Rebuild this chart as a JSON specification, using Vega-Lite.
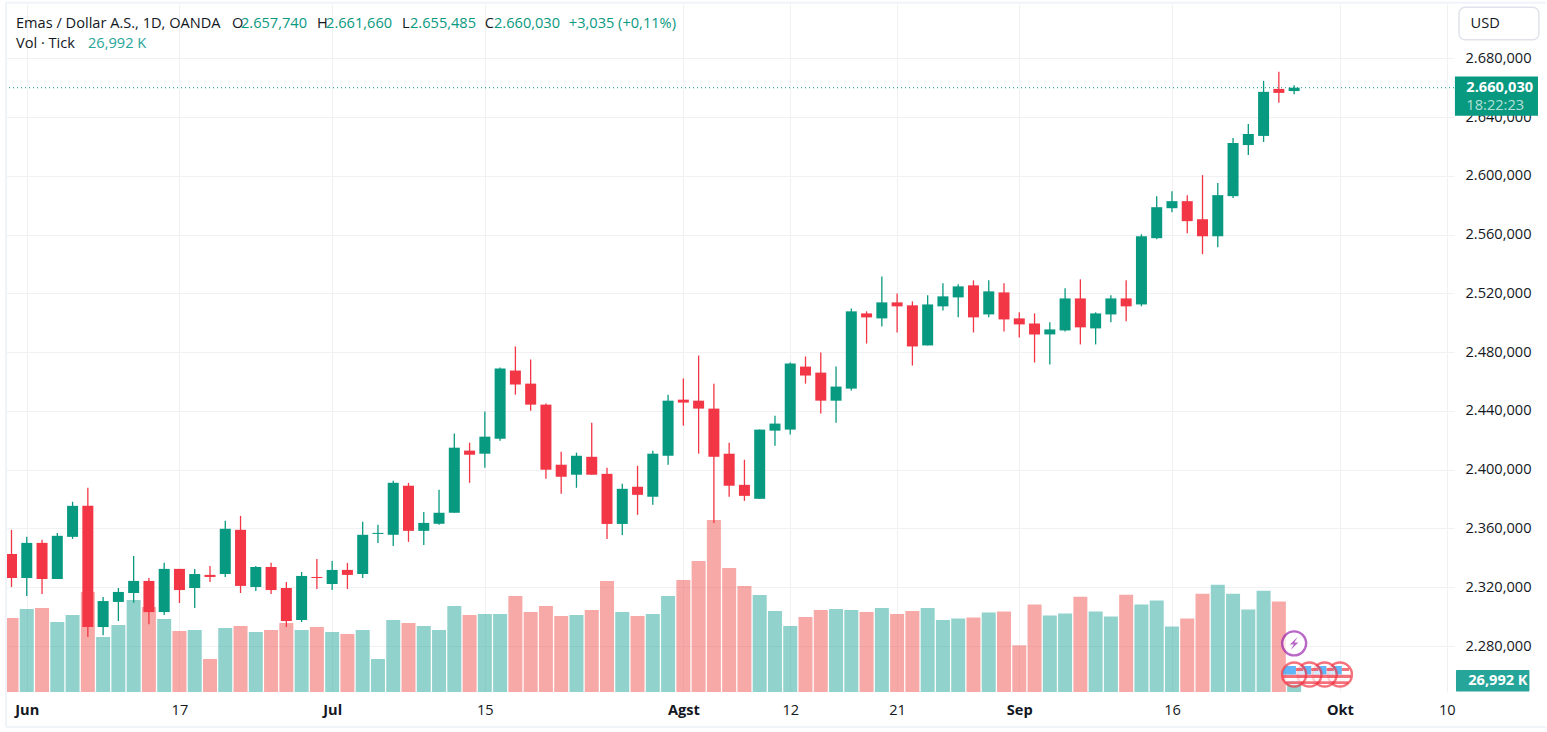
{
  "$schema": "https://vega.github.io/schema/vega-lite/v6.json",
  "width": 1448,
  "height": 688,
  "autosize": {"type": "none"},
  "padding": {"left": 6, "top": 4, "right": 93, "bottom": 40},
  "background": "white",
  "config": {
    "view": {"stroke": null},
    "font": "Open Sans",
    "text": {"align": "left", "fontSize": 14.6, "color": "#131722"}
  },
  "data": {"values": [{}]},
  "datasets": {
    "bars": [
      {"i":0,"open":2342.7,"high":2359.1,"low":2320.2,"close":2326.3,"volume":181.6},
      {"i":1,"open":2326.3,"high":2354.3,"low":2314.1,"close":2350.2,"volume":203.7},
      {"i":2,"open":2350.2,"high":2352.3,"low":2315.4,"close":2325.6,"volume":206.1},
      {"i":3,"open":2325.6,"high":2357.0,"low":2325.6,"close":2355.0,"volume":171.8},
      {"i":4,"open":2354.3,"high":2378.2,"low":2352.9,"close":2375.4,"volume":189.0},
      {"i":5,"open":2375.4,"high":2387.7,"low":2286.1,"close":2292.9,"volume":245.4},
      {"i":6,"open":2292.9,"high":2313.4,"low":2287.4,"close":2310.6,"volume":135.0},
      {"i":7,"open":2310.0,"high":2319.5,"low":2297.0,"close":2316.8,"volume":164.4},
      {"i":8,"open":2316.1,"high":2341.3,"low":2309.5,"close":2324.3,"volume":225.8},
      {"i":9,"open":2324.3,"high":2326.3,"low":2294.9,"close":2303.1,"volume":208.6},
      {"i":10,"open":2303.1,"high":2336.6,"low":2301.1,"close":2332.5,"volume":179.1},
      {"i":11,"open":2332.5,"high":2332.5,"low":2309.3,"close":2318.1,"volume":149.7},
      {"i":12,"open":2319.5,"high":2332.5,"low":2305.9,"close":2329.0,"volume":152.1},
      {"i":13,"open":2328.4,"high":2334.5,"low":2323.6,"close":2327.0,"volume":81.0},
      {"i":14,"open":2329.0,"high":2365.2,"low":2327.0,"close":2359.8,"volume":157.1},
      {"i":15,"open":2359.1,"high":2368.6,"low":2316.1,"close":2320.9,"volume":162.0},
      {"i":16,"open":2320.2,"high":2334.5,"low":2317.4,"close":2333.8,"volume":147.2},
      {"i":17,"open":2333.8,"high":2336.6,"low":2315.4,"close":2318.1,"volume":152.1},
      {"i":18,"open":2319.5,"high":2323.6,"low":2292.9,"close":2297.0,"volume":169.3},
      {"i":19,"open":2297.7,"high":2330.4,"low":2296.3,"close":2327.7,"volume":152.1},
      {"i":20,"open":2327.0,"high":2339.3,"low":2318.8,"close":2326.3,"volume":159.5},
      {"i":21,"open":2322.2,"high":2337.9,"low":2318.1,"close":2331.8,"volume":147.2},
      {"i":22,"open":2331.8,"high":2336.6,"low":2318.8,"close":2328.4,"volume":142.3},
      {"i":23,"open":2329.0,"high":2364.5,"low":2326.3,"close":2355.7,"volume":152.1},
      {"i":24,"open":2356.3,"high":2362.5,"low":2350.2,"close":2357.0,"volume":81.0},
      {"i":25,"open":2355.7,"high":2392.5,"low":2348.1,"close":2391.1,"volume":176.7},
      {"i":26,"open":2389.1,"high":2391.1,"low":2350.9,"close":2358.4,"volume":169.3},
      {"i":27,"open":2358.4,"high":2371.3,"low":2348.8,"close":2363.8,"volume":162.0},
      {"i":28,"open":2363.2,"high":2386.4,"low":2362.5,"close":2370.7,"volume":152.1},
      {"i":29,"open":2370.7,"high":2424.6,"low":2370.7,"close":2415.0,"volume":211.0},
      {"i":30,"open":2413.0,"high":2418.4,"low":2391.1,"close":2410.2,"volume":189.0},
      {"i":31,"open":2410.9,"high":2439.6,"low":2401.4,"close":2422.5,"volume":191.4},
      {"i":32,"open":2421.1,"high":2469.6,"low":2419.8,"close":2468.9,"volume":191.4},
      {"i":33,"open":2467.5,"high":2483.9,"low":2451.1,"close":2458.0,"volume":235.6},
      {"i":34,"open":2458.6,"high":2475.0,"low":2440.2,"close":2444.3,"volume":196.3},
      {"i":35,"open":2444.3,"high":2445.0,"low":2393.8,"close":2400.0,"volume":211.0},
      {"i":36,"open":2403.4,"high":2412.3,"low":2383.6,"close":2395.2,"volume":186.5},
      {"i":37,"open":2396.6,"high":2411.6,"low":2387.7,"close":2409.5,"volume":189.0},
      {"i":38,"open":2408.8,"high":2432.0,"low":2396.6,"close":2396.6,"volume":201.2},
      {"i":39,"open":2397.2,"high":2401.3,"low":2352.9,"close":2363.1,"volume":272.4},
      {"i":40,"open":2363.1,"high":2390.4,"low":2355.6,"close":2387.0,"volume":196.3},
      {"i":41,"open":2388.4,"high":2402.7,"low":2369.3,"close":2382.9,"volume":186.5},
      {"i":42,"open":2381.6,"high":2412.9,"low":2376.1,"close":2410.9,"volume":191.4},
      {"i":43,"open":2409.5,"high":2451.1,"low":2403.4,"close":2447.0,"volume":235.6},
      {"i":44,"open":2447.7,"high":2462.1,"low":2430.0,"close":2445.7,"volume":274.8},
      {"i":45,"open":2447.0,"high":2477.7,"low":2410.9,"close":2441.6,"volume":321.5},
      {"i":46,"open":2441.6,"high":2458.6,"low":2363.8,"close":2408.8,"volume":422.1},
      {"i":47,"open":2410.9,"high":2418.4,"low":2381.6,"close":2389.1,"volume":304.3},
      {"i":48,"open":2389.7,"high":2406.8,"low":2378.8,"close":2382.2,"volume":260.1},
      {"i":49,"open":2380.2,"high":2427.3,"low":2380.2,"close":2427.3,"volume":238.0},
      {"i":50,"open":2426.6,"high":2436.8,"low":2416.3,"close":2431.4,"volume":198.8},
      {"i":51,"open":2427.3,"high":2473.0,"low":2423.9,"close":2472.3,"volume":162.0},
      {"i":52,"open":2470.2,"high":2477.1,"low":2458.6,"close":2464.1,"volume":184.0},
      {"i":53,"open":2466.1,"high":2479.8,"low":2438.2,"close":2447.0,"volume":201.2},
      {"i":54,"open":2447.0,"high":2470.2,"low":2432.0,"close":2456.6,"volume":203.7},
      {"i":55,"open":2455.2,"high":2509.8,"low":2453.9,"close":2507.8,"volume":201.2},
      {"i":56,"open":2506.4,"high":2507.8,"low":2485.9,"close":2503.7,"volume":196.3},
      {"i":57,"open":2503.0,"high":2531.6,"low":2497.5,"close":2513.9,"volume":206.1},
      {"i":58,"open":2513.9,"high":2520.0,"low":2493.4,"close":2511.2,"volume":191.4},
      {"i":59,"open":2511.9,"high":2514.6,"low":2470.9,"close":2483.9,"volume":198.8},
      {"i":60,"open":2484.6,"high":2518.7,"low":2484.6,"close":2512.5,"volume":206.1},
      {"i":61,"open":2511.2,"high":2526.9,"low":2508.4,"close":2518.0,"volume":176.7},
      {"i":62,"open":2517.3,"high":2526.2,"low":2503.7,"close":2524.8,"volume":180.4},
      {"i":63,"open":2525.5,"high":2528.9,"low":2493.4,"close":2503.7,"volume":182.8},
      {"i":64,"open":2505.7,"high":2528.9,"low":2503.7,"close":2521.4,"volume":195.0},
      {"i":65,"open":2520.7,"high":2526.9,"low":2494.1,"close":2502.3,"volume":197.5},
      {"i":66,"open":2503.0,"high":2507.1,"low":2490.0,"close":2498.9,"volume":114.6},
      {"i":67,"open":2499.6,"high":2506.4,"low":2473.0,"close":2492.1,"volume":214.5},
      {"i":68,"open":2492.1,"high":2500.3,"low":2471.6,"close":2495.5,"volume":187.7},
      {"i":69,"open":2494.8,"high":2523.5,"low":2494.1,"close":2516.6,"volume":192.6},
      {"i":70,"open":2516.6,"high":2529.6,"low":2485.3,"close":2496.9,"volume":234.0},
      {"i":71,"open":2496.2,"high":2507.1,"low":2485.3,"close":2506.4,"volume":197.5},
      {"i":72,"open":2505.7,"high":2518.7,"low":2500.3,"close":2516.6,"volume":185.3},
      {"i":73,"open":2516.6,"high":2528.9,"low":2501.0,"close":2511.2,"volume":238.9},
      {"i":74,"open":2512.5,"high":2560.3,"low":2511.2,"close":2558.9,"volume":214.5},
      {"i":75,"open":2557.6,"high":2586.2,"low":2556.9,"close":2578.7,"volume":224.3},
      {"i":76,"open":2578.0,"high":2589.6,"low":2575.3,"close":2582.8,"volume":160.9},
      {"i":77,"open":2582.8,"high":2586.9,"low":2561.0,"close":2569.2,"volume":180.4},
      {"i":78,"open":2570.5,"high":2600.5,"low":2546.7,"close":2558.9,"volume":241.3},
      {"i":79,"open":2558.9,"high":2595.1,"low":2551.4,"close":2586.9,"volume":263.3},
      {"i":80,"open":2586.2,"high":2625.8,"low":2584.9,"close":2622.4,"volume":241.3},
      {"i":81,"open":2621.0,"high":2635.3,"low":2614.2,"close":2628.5,"volume":202.3},
      {"i":82,"open":2627.2,"high":2664.7,"low":2623.1,"close":2657.2,"volume":248.7},
      {"i":83,"open":2659.2,"high":2670.8,"low":2649.7,"close":2656.5,"volume":221.8},
      {"i":84,"open":2657.74,"high":2661.66,"low":2655.485,"close":2660.03,"volume":26.992}
    ],
    "flags": [
      {"i":87,"part":"flag"},{"i":87,"part":"stripes"},{"i":87,"part":"canton"},
      {"i":86,"part":"flag"},{"i":86,"part":"stripes"},{"i":86,"part":"canton"},
      {"i":85,"part":"flag"},{"i":85,"part":"stripes"},{"i":85,"part":"canton"},
      {"i":84,"part":"flag"},{"i":84,"part":"stripes"},{"i":84,"part":"canton"}
    ],
    "bolt": [
      {"i":84,"part":"event"},{"i":84,"part":"bolt"}
    ]
  },
  "layer": [
    {
      "data": {"name": "bars"},
      "mark": {"type": "bar", "orient": "vertical", "width": 14, "opacity": 0.5, "clip": true},
      "encoding": {
        "x": {
          "field": "i",
          "type": "quantitative",
          "scale": {"domain": [-0.36, 94.47], "nice": false, "zero": false, "padding": 0},
          "axis": {
            "title": null,
            "orient": "bottom",
            "values": [1, 11, 21, 31, 44, 51, 58, 66, 76, 87, 94],
            "labelExpr": "datum.value==1?'Jun':datum.value==11?'17':datum.value==21?'Jul':datum.value==31?'15':datum.value==44?'Agst':datum.value==51?'12':datum.value==58?'21':datum.value==66?'Sep':datum.value==76?'16':datum.value==87?'Okt':'10'",
            "labelFontWeight": {"condition": {"test": "datum.value==1||datum.value==21||datum.value==44||datum.value==66||datum.value==87", "value": "bold"}, "value": "normal"},
            "labelFontSize": 14.6,
            "labelColor": "#131722",
            "labelPadding": 10,
            "labelFlush": false,
            "labelOverlap": false,
            "domain": false,
            "ticks": false,
            "grid": true,
            "gridColor": "#f1f1f4",
            "gridWidth": 1
          }
        },
        "y": {
          "field": "volume",
          "type": "quantitative",
          "scale": {"domain": [0, 1688], "nice": false},
          "axis": null
        },
        "color": {"condition": {"test": "datum.close >= datum.open", "value": "#26a69a"}, "value": "#ef5350"}
      }
    },
    {
      "layer": [
        {
          "data": {"name": "bars"},
          "mark": {"type": "rule", "strokeWidth": 1.3},
          "encoding": {
            "x": {"field": "i", "type": "quantitative"},
            "y": {
              "field": "low",
              "type": "quantitative",
              "scale": {"domain": [2248.7, 2717], "nice": false, "zero": false},
              "axis": {
                "title": null,
                "orient": "right",
                "values": [2280, 2320, 2360, 2400, 2440, 2480, 2520, 2560, 2600, 2640, 2680],
                "labelExpr": "replace(replace(replace(format(datum.value, ',.3f'), '.', ';'), ',', '.'), ';', ',')",
                "labelFontSize": 14.6,
                "labelColor": "#131722",
                "labelPadding": 11,
                "domain": false,
                "ticks": false,
                "grid": true,
                "gridColor": "#f1f1f4",
                "gridWidth": 1
              }
            },
            "y2": {"field": "high"},
            "color": {"condition": {"test": "datum.close >= datum.open", "value": "#089981"}, "value": "#f23645"}
          }
        },
        {
          "data": {"name": "bars"},
          "mark": {"type": "bar", "orient": "vertical", "width": 11},
          "encoding": {
            "x": {"field": "i", "type": "quantitative"},
            "y": {"field": "open", "type": "quantitative"},
            "y2": {"field": "close"},
            "color": {"condition": {"test": "datum.close >= datum.open", "value": "#089981"}, "value": "#f23645"}
          }
        },
        {
          "mark": {"type": "rule", "color": "#089981", "strokeWidth": 1, "strokeDash": [1, 3]},
          "encoding": {"y": {"datum": 2660.03}}
        },
        {
          "mark": {"type": "rule", "color": "#f0f3fa", "strokeWidth": 2},
          "encoding": {"x": {"datum": -0.36}, "y": {"datum": 2224.9}, "y2": {"datum": 2717.8}}
        },
        {
          "mark": {"type": "rule", "color": "#f0f3fa", "strokeWidth": 2},
          "encoding": {"x": {"datum": -0.36}, "x2": {"datum": 100.5}, "y": {"datum": 2717.8}}
        },
        {
          "mark": {"type": "rule", "color": "#f0f3fa", "strokeWidth": 2},
          "encoding": {"x": {"datum": -0.36}, "x2": {"datum": 100.5}, "y": {"datum": 2224.9}}
        },
        {
          "data": {"name": "bolt"},
          "mark": {"type": "point", "filled": true, "size": 576, "strokeWidth": 2.4},
          "encoding": {
            "x": {"field": "i", "type": "quantitative"},
            "y": {"datum": 2281.8},
            "shape": {"field": "part", "type": "nominal", "legend": null, "scale": {"domain": ["event", "bolt", "flag", "stripes", "canton"], "range": ["circle", "M0.3 -0.55L-0.35 0.1L-0.02 0.1L-0.28 0.55L0.35 -0.08L0.02 -0.08Z", "circle", "M-0.92 0.02H0.92V0.3H-0.92ZM-0.7 0.56H0.7V0.78H-0.7ZM0.15 -0.55H0.76V-0.3H0.15Z", "M-0.62 -0.7L0.15 -0.7L0.15 0L-0.92 0L-0.92 -0.3Z"]}},
            "fill": {"field": "part", "type": "nominal", "legend": null, "scale": {"domain": ["event", "bolt", "flag", "stripes", "canton"], "range": ["#ffffff", "#9c27b0", "#ffffff", "#f23645", "#2196f3"]}},
            "stroke": {"field": "part", "type": "nominal", "legend": null, "scale": {"domain": ["event", "bolt", "flag", "stripes", "canton"], "range": ["#9c27b0", "transparent", "#f23645", "transparent", "transparent"]}}
          }
        },
        {
          "data": {"name": "flags"},
          "mark": {"type": "point", "filled": true, "size": 576, "strokeWidth": 2.4},
          "encoding": {
            "x": {"field": "i", "type": "quantitative"},
            "y": {"datum": 2260.6},
            "shape": {"field": "part", "type": "nominal", "legend": null},
            "fill": {"field": "part", "type": "nominal", "legend": null},
            "stroke": {"field": "part", "type": "nominal", "legend": null}
          }
        },
        {
          "mark": {"type": "rect", "color": "#089981"},
          "encoding": {"x": {"datum": 94.53}, "x2": {"datum": 99.97}, "y": {"datum": 2667.6}, "y2": {"datum": 2640.9}}
        },
        {
          "mark": {"type": "text", "text": "2.660,030", "color": "#ffffff", "fontWeight": "bold"},
          "encoding": {"x": {"datum": 95.28}, "y": {"datum": 2660}}
        },
        {
          "mark": {"type": "text", "text": "18:22:23", "color": "#b5e0d8"},
          "encoding": {"x": {"datum": 95.28}, "y": {"datum": 2647.6}}
        },
        {
          "mark": {"type": "rect", "color": "#26a69a", "cornerRadius": 1},
          "encoding": {"x": {"datum": 94.6}, "x2": {"datum": 99.41}, "y": {"datum": 2263.7}, "y2": {"datum": 2249}}
        },
        {
          "mark": {"type": "text", "text": "26,992 K", "color": "#ffffff", "fontWeight": "bold"},
          "encoding": {"x": {"datum": 95.4}, "y": {"datum": 2256.3}}
        },
        {
          "mark": {"type": "rect", "fill": "#ffffff", "stroke": "#e0e3eb", "strokeWidth": 1.5, "cornerRadius": 6},
          "encoding": {"x": {"datum": 94.8}, "x2": {"datum": 100.03}, "y": {"datum": 2714.8}, "y2": {"datum": 2692.6}}
        },
        {
          "mark": {"type": "text", "text": "USD"},
          "encoding": {"x": {"datum": 95.55}, "y": {"datum": 2703.2}}
        },
        {"mark": {"type": "text", "text": "Emas / Dollar A.S., 1D, OANDA"}, "encoding": {"x": {"datum": 0.295}, "y": {"datum": 2703.6}}},
        {"mark": {"type": "text", "text": "O"}, "encoding": {"x": {"datum": 14.44}, "y": {"datum": 2703.6}}},
        {"mark": {"type": "text", "text": "2.657,740", "color": "#089981"}, "encoding": {"x": {"datum": 15.03}, "y": {"datum": 2703.6}}},
        {"mark": {"type": "text", "text": "H"}, "encoding": {"x": {"datum": 20.01}, "y": {"datum": 2703.6}}},
        {"mark": {"type": "text", "text": "2.661,660", "color": "#089981"}, "encoding": {"x": {"datum": 20.6}, "y": {"datum": 2703.6}}},
        {"mark": {"type": "text", "text": "L"}, "encoding": {"x": {"datum": 25.57}, "y": {"datum": 2703.6}}},
        {"mark": {"type": "text", "text": "2.655,485", "color": "#089981"}, "encoding": {"x": {"datum": 26.1}, "y": {"datum": 2703.6}}},
        {"mark": {"type": "text", "text": "C"}, "encoding": {"x": {"datum": 31.0}, "y": {"datum": 2703.6}}},
        {"mark": {"type": "text", "text": "2.660,030", "color": "#089981"}, "encoding": {"x": {"datum": 31.6}, "y": {"datum": 2703.6}}},
        {"mark": {"type": "text", "text": "+3,035 (+0,11%)", "color": "#089981"}, "encoding": {"x": {"datum": 36.5}, "y": {"datum": 2703.6}}},
        {"mark": {"type": "text", "text": "Vol · Tick"}, "encoding": {"x": {"datum": 0.295}, "y": {"datum": 2690}}},
        {"mark": {"type": "text", "text": "26,992 K", "color": "#26a69a"}, "encoding": {"x": {"datum": 5.01}, "y": {"datum": 2690}}}
      ]
    }
  ],
  "resolve": {"scale": {"y": "independent"}}
}
